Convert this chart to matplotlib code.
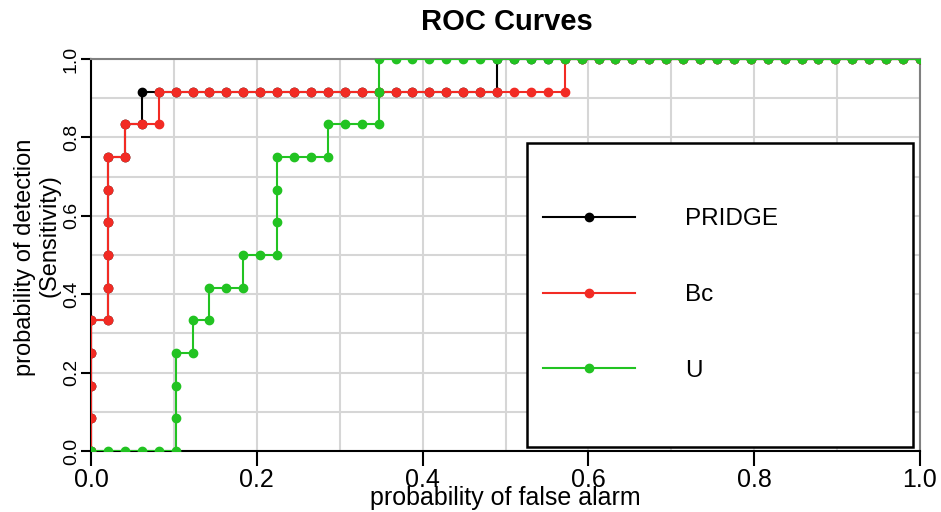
import numpy as np
import matplotlib
matplotlib.use('Agg')
import matplotlib.pyplot as plt
from matplotlib.patches import Rectangle
from matplotlib.ticker import MultipleLocator

plt.rcParams['font.family'] = ['Liberation Sans', 'DejaVu Sans']
NARROW = ['Liberation Sans Narrow', 'Liberation Sans']

# ROC data: 12 positives, 49 negatives
n_pos = 12
n_neg = 49
series_names = ['PRIDGE', 'Bc', 'U']
series_colors = ['black', '#f22b24', '#22c322']
# number of false positives already passed when each true positive is picked up
pridge_fp = [0, 0, 0, 0, 1, 1, 1, 1, 1, 2, 3, 24]
bc_fp = [0, 0, 0, 0, 1, 1, 1, 1, 1, 2, 4, 28]
u_fp = [5, 5, 5, 6, 7, 9, 11, 11, 11, 14, 17, 17]
x_ticks = [0.0, 0.2, 0.4, 0.6, 0.8, 1.0]
y_ticks = [0.0, 0.2, 0.4, 0.6, 0.8, 1.0]


def roc_points(fp_at_tp):
    # walk the threshold list, one point per observation
    fp, tp = 0, 0
    xs, ys = [fp], [tp]
    for k in fp_at_tp:
        while fp < k:
            fp += 1
            xs.append(fp)
            ys.append(tp)
        tp += 1
        xs.append(fp)
        ys.append(tp)
    while fp < n_neg:
        fp += 1
        xs.append(fp)
        ys.append(tp)
    return np.array(xs) / n_neg, np.array(ys) / n_pos


W, H = 941, 512
fig = plt.figure(figsize=(W / 100, H / 100), dpi=100)
ax = fig.add_axes([91 / W, (H - 451) / H, 829 / W, 392 / H])

for i, (name, col, fps) in enumerate(zip(series_names, series_colors, [pridge_fp, bc_fp, u_fp])):
    x, y = roc_points(fps)
    ax.plot(x, y, color=col, lw=1.5, marker='o', ms=6, label=name, zorder=3 + i)

ax.set_xlim(0, 1)
ax.set_ylim(0, 1)
ax.xaxis.set_minor_locator(MultipleLocator(0.1))
ax.yaxis.set_minor_locator(MultipleLocator(0.1))
ax.grid(True, which='both', color='#d6d6d6', lw=1.5)
ax.set_axisbelow(True)

ax.set_xticks(x_ticks)
ax.set_xticklabels([f'{v:.1f}' for v in x_ticks], family=NARROW, fontsize=18)
ax.set_yticks(y_ticks)
ax.set_yticklabels([f'{v:.1f}' for v in y_ticks], fontsize=14, rotation=90, va='center')
ax.tick_params(axis='x', which='major', length=11, width=1.5, pad=1)
ax.tick_params(axis='y', which='major', length=7, width=1.5, pad=1)
ax.tick_params(which='minor', length=0)

for s in ['left', 'bottom']:
    ax.spines[s].set_color('black')
    ax.spines[s].set_linewidth(1.5)
for s in ['top', 'right']:
    ax.spines[s].set_color('#808080')
    ax.spines[s].set_linewidth(1.5)

ax.set_xlabel('probability of false alarm', family=NARROW, fontsize=18, va='center')
ax.xaxis.set_label_coords(0.5, (451 - 498) / 392)

fig.text(25 / W, 1 - 257 / H, 'probability of detection', rotation=90,
         ha='center', va='center', fontsize=17)
fig.text(49 / W, 1 - 236 / H, '(Sensitivity)', rotation=90,
         ha='center', va='center', fontsize=17)

fig.text(507 / W, 1 - 22 / H, 'ROC Curves', ha='center', va='center',
         fontsize=21, fontweight='bold')

# legend: white framed box with entries placed inside
box = Rectangle(((527 - 91) / 829, (451 - 447) / 392), (913 - 527) / 829, (447 - 143) / 392,
                transform=ax.transAxes, facecolor='white', edgecolor='black', lw=1.8, zorder=10)
ax.add_patch(box)
leg = ax.legend(loc='center left', bbox_to_anchor=((543 - 91) / 829, (451 - 295) / 392),
                frameon=False, fontsize=17.5, handlelength=3.8, handletextpad=2.05,
                labelspacing=2.22, borderpad=0, borderaxespad=0, numpoints=1)
leg.set_zorder(11)

fig.savefig('out.png', dpi=100)
